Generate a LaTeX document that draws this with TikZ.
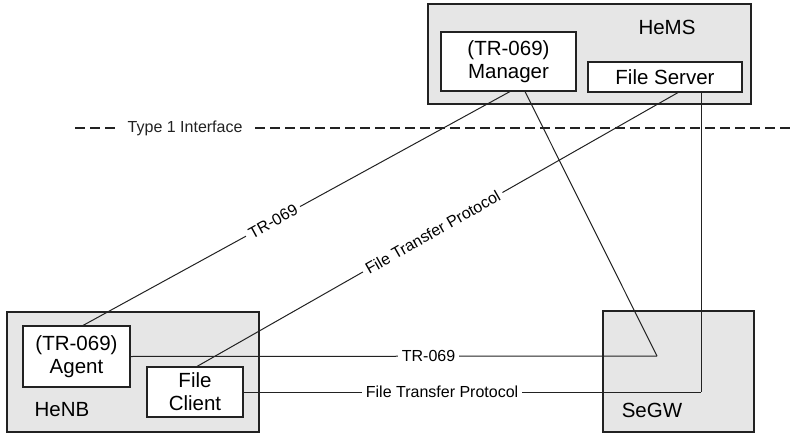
\documentclass[tikz,border=0pt]{standalone}
\usepackage{fontspec}
\setmainfont{Liberation Sans}
\usetikzlibrary{positioning,calc}
\definecolor{boxGray}{RGB}{230,230,230}
\definecolor{lineDark}{RGB}{34,34,34}

\begin{document}
\begin{tikzpicture}[x=1pt,y=-1pt,
    outerbox/.style={draw=lineDark, line width=1.1pt, fill=boxGray, inner sep=0pt},
    innerbox/.style={draw=lineDark, line width=1.1pt, fill=white, inner sep=0pt, align=center,
      font=\fontsize{20.5}{23}\selectfont},
    boxname/.style={font=\fontsize{20.5}{23}\selectfont, inner sep=0pt},
    link/.style={draw=lineDark, line width=1pt},
    lbl/.style={fill=white, inner sep=4pt, font=\fontsize{16}{18}\selectfont},
    iface/.style={draw=lineDark, line width=2.5pt, dash pattern=on 10pt off 5pt}]
        \useasboundingbox (0,0) rectangle (790,433);
        % --- TOP: HeMS ---
        \node[outerbox, minimum width=323pt, minimum height=100pt] (hems) at (589.5,54) {};
        \node[boxname] (hemsname) at (667,27) {HeMS};
        \node[innerbox, minimum width=135pt, minimum height=59pt] (mgr) at (508.5,61.5) {(TR-069)\\Manager};
        \node[innerbox, minimum width=154pt, minimum height=30pt] (fsrv) at (665,77) {File Server};
        % --- Interface line ---
        \coordinate (ifl) at (75,128);
        \coordinate (ifr) at (790,128);
        \draw[iface] (ifl) -- node[pos=0.154, fill=white, inner xsep=9pt, text=lineDark,
          font=\fontsize{16}{18}\selectfont] {Type 1 Interface} (ifr);
        % --- BOTTOM: HeNB and SeGW ---
        \node[outerbox, minimum width=252pt, minimum height=120pt] (henb) at (133,372) {};
        \node[boxname] (henbname) at (62,410) {HeNB};
        \node[innerbox, minimum width=107pt, minimum height=61pt] (agent) at (76.5,356.5) {(TR-069)\\Agent};
        \node[innerbox, minimum width=96pt, minimum height=50pt] (client) at (195,392) {File\\Client};
        \node[outerbox, minimum width=151pt, minimum height=121pt] (segw) at (678.5,371.5) {};
        \node[boxname] (segwname) at (652,410) {SeGW};
        % turning point inside SeGW
        \coordinate (turn) at (657,356);
        % --- Direct links ---
        \draw[link] ([xshift=6.5pt]agent.north) -- node[lbl, pos=0.445, sloped] {TR-069}
          ([xshift=1.5pt]mgr.south);
        \draw[link] ([xshift=2pt]client.north) -- node[lbl, pos=0.49, sloped] {File Transfer Protocol}
          ([xshift=13pt]fsrv.south);
        % --- Links via SeGW ---
        \draw[link] ([xshift=16.5pt]mgr.south) -- (turn);
        \draw[link] (agent.east) -- node[lbl, pos=0.566] {TR-069} (turn);
        \draw[link] ([xshift=36pt]fsrv.south) -- ([xshift=36pt]fsrv.south |- client.east);
        \draw[link] (client.east) -- node[lbl, pos=0.434] {File Transfer Protocol}
          ([xshift=36pt]fsrv.south |- client.east);
      \end{tikzpicture}
\end{document}
